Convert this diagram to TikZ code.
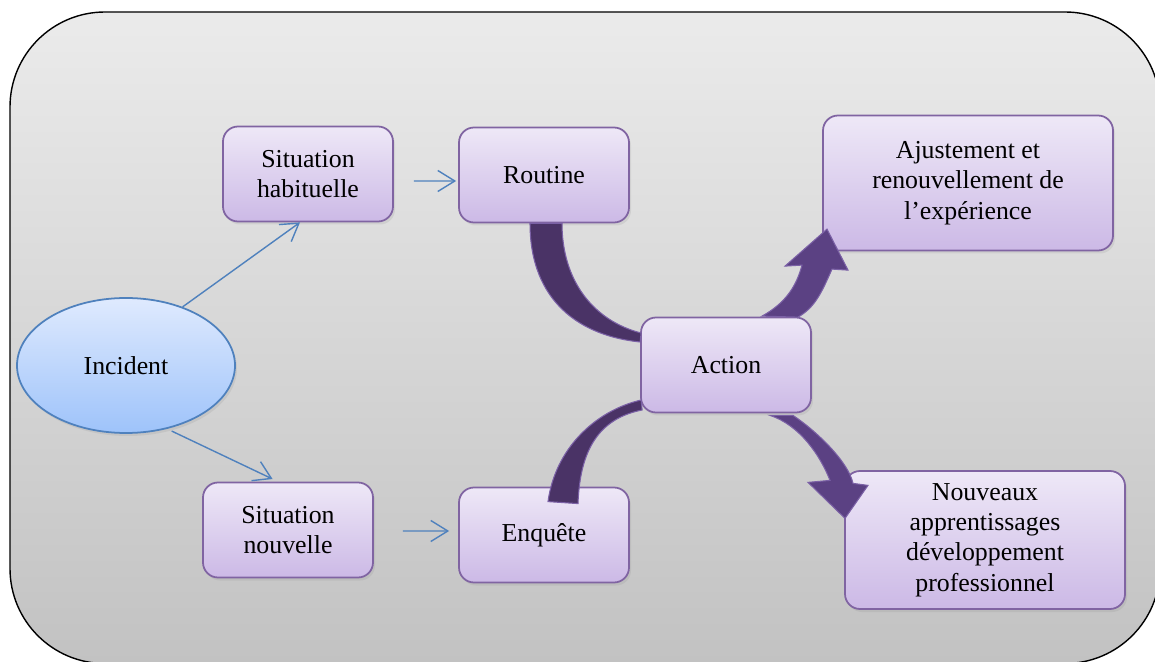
\documentclass[tikz,border=0pt]{standalone}
\usepackage{fontspec}
\setmainfont{Liberation Serif}
\usetikzlibrary{shapes.geometric,arrows.meta,shadows}
\definecolor{boxtop}{HTML}{EEE8F7}
\definecolor{boxbot}{HTML}{CCB9E6}
\definecolor{boxline}{HTML}{8064A2}
\definecolor{ovaltop}{HTML}{DFEAFE}
\definecolor{ovalbot}{HTML}{9EC3FA}
\definecolor{ovalline}{HTML}{4F81BD}
\definecolor{bandleft}{HTML}{4A3366}
\definecolor{bandright}{HTML}{5B4183}
\definecolor{bandline}{HTML}{7B61A6}
\definecolor{frametop}{HTML}{EBEBEB}
\definecolor{framebot}{HTML}{C2C2C2}

\begin{document}
\begin{tikzpicture}[
    box/.style={draw=boxline,line width=1pt,rounded corners=0.3cm,top color=boxtop,bottom color=boxbot,align=center,minimum width=3.4cm,minimum height=1.9cm,font=\fontsize{14.7}{17.2}\selectfont,drop shadow={opacity=0.15,shadow xshift=0.04cm,shadow yshift=-0.06cm}},
    link/.style={draw=ovalline,line width=0.8pt,-{Straight Barb[length=0.34cm,width=0.42cm]}},
    band/.style={draw=bandline,line width=0.6pt}]
        \useasboundingbox (0,0) rectangle (23.1,13.22);
        \clip (0,0) rectangle (23.1,13.22);
        \draw[line width=0.8pt,rounded corners=1.9cm,top color=frametop,bottom color=framebot] (0.2,-0.05) rectangle (23.2,12.98);

        \node[ellipse,draw=ovalline,line width=1pt,top color=ovaltop,bottom color=ovalbot,minimum width=4.36cm,minimum height=2.7cm,font=\fontsize{14.7}{17.2}\selectfont,drop shadow={opacity=0.15,shadow xshift=0.04cm,shadow yshift=-0.06cm}] (incident) at (2.52,5.91) {Incident};
        \node[box] (sith) at (6.16,9.74) {Situation\\habituelle};
        \node[box] (routine) at (10.88,9.72) {Routine};
        \node[box,minimum width=5.8cm,minimum height=2.7cm] (ajust) at (19.36,9.56) {Ajustement et\\renouvellement de\\l’expérience};
        \node[box] (action) at (14.52,5.92) {Action};
        \node[box] (sitn) at (5.76,2.62) {Situation\\nouvelle};
        \node[box] (enquete) at (10.88,2.52) {Enquête};
        \node[box,minimum width=5.6cm,minimum height=2.76cm] (nouveaux) at (19.7,2.42) {Nouveaux\\apprentissages\\développement\\professionnel};

        \draw[link] (incident.46) -- ([xshift=-0.16cm]sith.south);
        \draw[link,shorten <=0.1cm,shorten >=0.12cm] (incident.-57) -- ([xshift=-0.2cm]sitn.north);
        \draw[link,shorten <=0.4cm,shorten >=0.04cm] ([yshift=-0.14cm]sith.east) -- ([yshift=-0.12cm]routine.west);
        \draw[link,shorten <=0.58cm,shorten >=0.18cm] ([yshift=-0.02cm]sitn.east) -- ([yshift=0.08cm]enquete.west);

        % curved bands into and out of the action box
        \filldraw[band,fill=bandleft] ([xshift=-0.28cm]routine.south) .. controls +(0,-1.56) and +(-1.2,0.12) .. ([yshift=0.46cm]action.west) -- ([shift={(0.02,0.64)}]action.west) .. controls +(-0.94,0.24) and +(0,-1.16) .. ([xshift=0.36cm]routine.south) -- cycle;
        \filldraw[band,fill=bandleft] ([shift={(0.08,-0.3)}]enquete.north) .. controls +(0.14,1.04) and +(-0.94,-0.22) .. ([shift={(0.02,-0.7)}]action.west) -- ([shift={(0.04,-0.9)}]action.west) .. controls +(-0.86,-0.17) and +(0.04,1.08) .. ([shift={(0.68,-0.34)}]enquete.north) -- cycle;
        \filldraw[band,fill=bandright] ([shift={(0.72,0.01)}]action.north) .. controls +(0.45,0.25) and +(-0.12,-0.45) .. ([shift={(1.52,1.03)}]action.north) -- ([shift={(1.18,1.01)}]action.north) -- ([shift={(2.02,1.75)}]action.north) -- ([shift={(2.44,0.93)}]action.north) -- ([shift={(2.12,0.95)}]action.north) .. controls +(-0.2,-0.45) and +(0.35,0.2) .. ([shift={(1.44,-0.01)}]action.north) -- cycle;
        \filldraw[band,fill=bandright] ([shift={(0.88,-0.04)}]action.south) .. controls +(0.6,-0.2) and +(-0.2,0.5) .. ([shift={(2.08,-1.34)}]action.south) -- ([shift={(1.64,-1.38)}]action.south) -- ([shift={(2.38,-2.1)}]action.south) -- ([shift={(2.84,-1.44)}]action.south) -- ([shift={(2.54,-1.4)}]action.south) .. controls +(-0.1,0.45) and +(0.45,-0.3) .. ([shift={(1.34,-0.04)}]action.south) -- cycle;
    \end{tikzpicture}
\end{document}
